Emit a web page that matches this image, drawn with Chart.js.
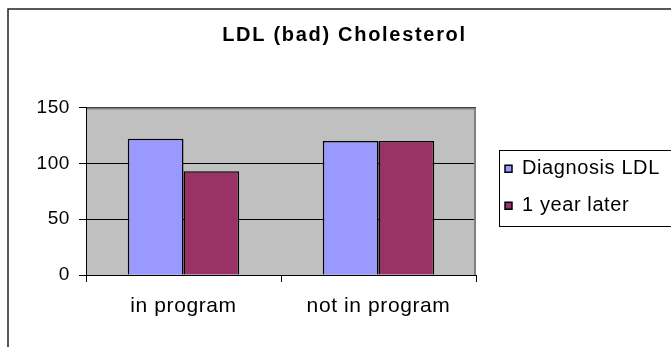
<!DOCTYPE html>
<html>
<head>
<meta charset="utf-8">
<script src="https://cdn.jsdelivr.net/npm/chart.js@4"></script>
<style>
  body { margin: 0; background: #fff; overflow: hidden; }
</style>
</head>
<body>
<canvas id="ldlChart" width="671" height="347"></canvas>
<script>
var categories = ["in program", "not in program"];
var diagnosisLdl = [122, 120];
var oneYearLater = [93, 120];
var yTicks = [0, 50, 100, 150];

var FONT = "'Liberation Sans', Arial, sans-serif";
var TEXT_SPACING = "0.6px";
var TITLE_SPACING = "1.7px";
var LEGEND_WIDTH = 195;

// excel style frame: gray plot area, outer border, boxed legend
var excelFrame = {
  id: "excelFrame",
  afterInit: function (chart) {
    // wider letter spacing for the title only
    var title = chart.titleBlock;
    var drawTitle = title.draw;
    title.draw = function () {
      chart.ctx.letterSpacing = TITLE_SPACING;
      drawTitle.call(title);
      chart.ctx.letterSpacing = TEXT_SPACING;
    };
    // fixed legend width so the plot area doesn't depend on text metrics
    var legend = chart.legend;
    var fitLegend = legend.fit;
    legend.fit = function () {
      fitLegend.call(legend);
      legend.width = LEGEND_WIDTH;
    };
  },
  beforeUpdate: function (chart) {
    chart.ctx.letterSpacing = TEXT_SPACING;
  },
  afterLayout: function (chart) {
    // push legend away from the plot a bit
    var legend = chart.legend;
    legend.left += 12;
    legend.right += 12;
    legend.top -= 4;
    legend.bottom -= 4;
  },
  beforeDraw: function (chart) {
    var ctx = chart.ctx;
    var area = chart.chartArea;
    ctx.letterSpacing = TEXT_SPACING;
    ctx.save();
    ctx.strokeStyle = "#222";
    ctx.lineWidth = 1.5;
    ctx.strokeRect(8, 9, chart.width, chart.height);
    ctx.fillStyle = "#c0c0c0";
    ctx.fillRect(area.left, area.top, area.right - area.left, area.bottom - area.top);
    ctx.restore();
  },
  beforeDatasetsDraw: function (chart) {
    var ctx = chart.ctx;
    var area = chart.chartArea;
    ctx.save();
    ctx.strokeStyle = "#808080";
    ctx.lineWidth = 2;
    ctx.beginPath();
    ctx.moveTo(area.left + 1, area.top + 1);
    ctx.lineTo(area.right - 1, area.top + 1);
    ctx.lineTo(area.right - 1, area.bottom);
    ctx.stroke();
    ctx.restore();
  },
  afterDraw: function (chart) {
    var boxes = chart.legend.legendHitBoxes;
    if (!boxes || boxes.length < 2) return;
    var ctx = chart.ctx;
    var x0 = Math.round(boxes[0].left) - 6;
    var y0 = Math.round(boxes[0].top) - 9;
    var y1 = Math.round(boxes[1].top + boxes[1].height) + 10;
    ctx.save();
    ctx.strokeStyle = "#000";
    ctx.lineWidth = 1;
    ctx.strokeRect(x0 + 0.5, y0 + 0.5, chart.width, y1 - y0);
    ctx.restore();
  },
};

var ctxLdl = document.getElementById("ldlChart").getContext("2d");
new Chart(ctxLdl, {
  type: "bar",
  data: {
    labels: categories,
    datasets: [
      {
        label: "Diagnosis LDL",
        data: diagnosisLdl,
        backgroundColor: "#9999ff",
        borderColor: "#000",
        borderWidth: 1.5,
        categoryPercentage: 2 / 3.5,
        barPercentage: 1,
      },
      {
        label: "1 year later",
        data: oneYearLater,
        backgroundColor: "#993366",
        borderColor: "#000",
        borderWidth: 1.5,
        categoryPercentage: 2 / 3.5,
        barPercentage: 1,
      },
    ],
  },
  plugins: [excelFrame],
  options: {
    responsive: false,
    animation: false,
    layout: {
      padding: { left: 18, right: 0, top: 0, bottom: 0 },
    },
    scales: {
      x: {
        grid: {
          offset: true,
          drawOnChartArea: false,
          color: "#000",
          tickLength: 7,
        },
        border: { color: "#000", width: 1 },
        ticks: {
          color: "#000",
          padding: 12,
          font: { family: FONT, size: 21 },
        },
        afterFit: function (scale) {
          scale.height = 72;
        },
      },
      y: {
        min: yTicks[0],
        max: yTicks[yTicks.length - 1],
        ticks: {
          stepSize: yTicks[1] - yTicks[0],
          color: "#000",
          padding: 9,
          font: { family: FONT, size: 19 },
        },
        grid: {
          color: "#000",
          tickLength: 7,
        },
        border: { color: "#000", width: 1 },
        afterFit: function (scale) {
          scale.width = 68;
        },
      },
    },
    plugins: {
      title: {
        display: true,
        text: "LDL (bad) Cholesterol",
        color: "#000",
        font: { family: FONT, size: 20, weight: "bold" },
        padding: { top: 23, bottom: 60.5 },
      },
      legend: {
        display: true,
        position: "right",
        fullSize: false,
        labels: {
          color: "#000",
          boxWidth: 7,
          boxHeight: 7,
          padding: 17,
          font: { family: FONT, size: 20 },
        },
      },
      tooltip: { enabled: false },
    },
  },
});
</script>
</body>
</html>
